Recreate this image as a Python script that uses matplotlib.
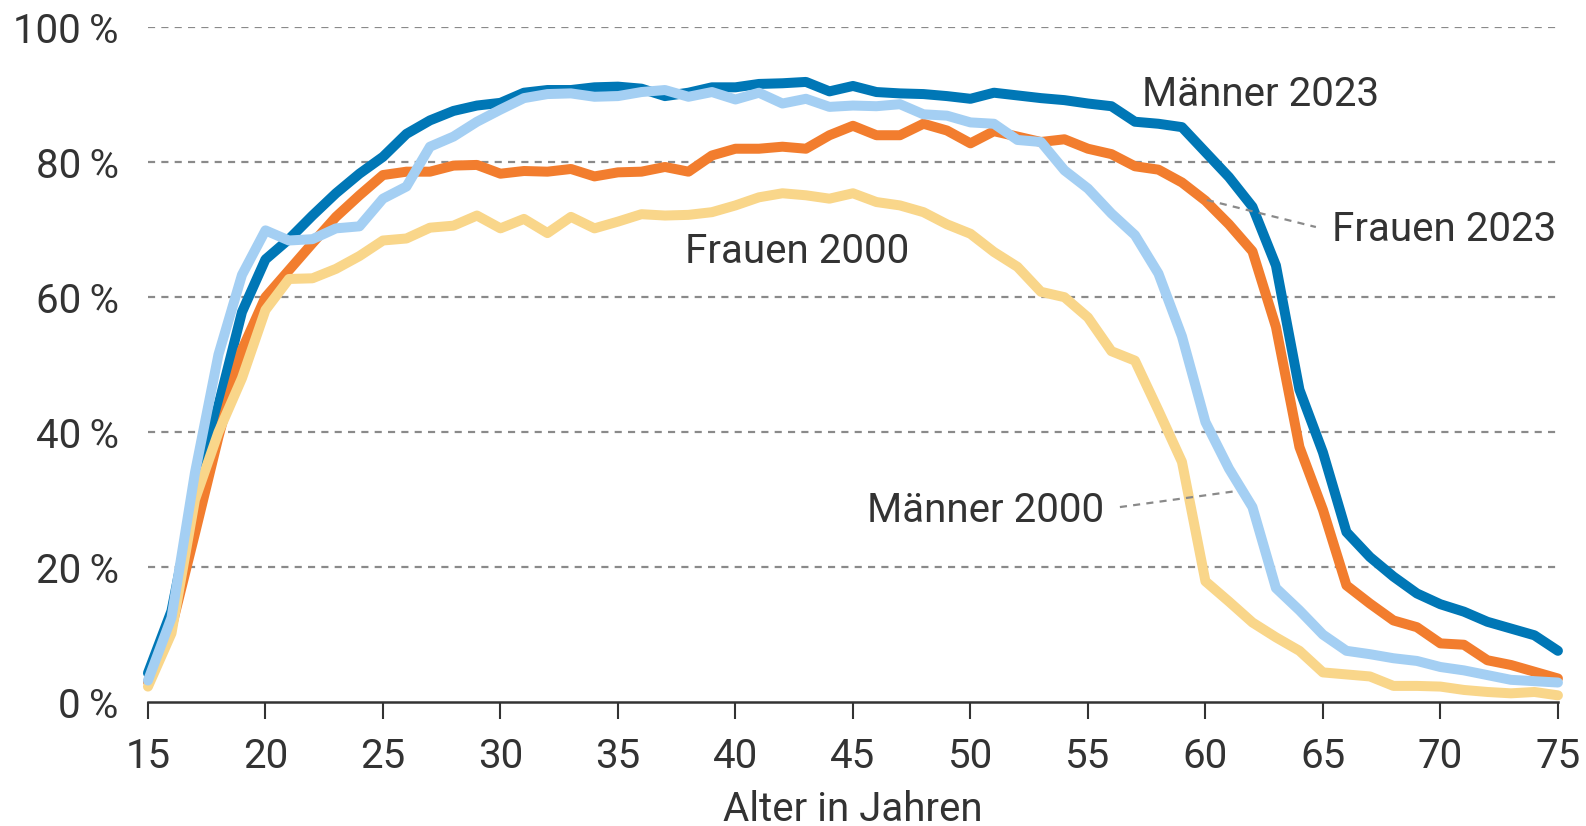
import matplotlib
matplotlib.use("Agg")
import matplotlib.pyplot as plt

# Erwerbsbeteiligung nach Alter, 15 bis 75 Jahre
alter = list(range(15, 76))

maenner_2023 = [4.3, 13.5, 31, 44, 57.8, 65.6, 68.6, 72.1, 75.4, 78.3,
                80.8, 84.2, 86.2, 87.6, 88.4, 88.8, 90.3, 90.7, 90.7, 91.1,
                91.2, 90.9, 89.8, 90.3, 91.1, 91.1, 91.6, 91.7, 91.9, 90.5,
                91.3, 90.4, 90.2, 90.1, 89.8, 89.4, 90.3, 89.9, 89.5, 89.2,
                88.7, 88.3, 86.0, 85.7, 85.2, 81.5, 77.8, 73.4, 64.7, 46.3,
                37.0, 25.2, 21.5, 18.6, 16.1, 14.5, 13.4, 11.9, 10.9, 9.9, 7.6]

frauen_2023 = [3.0, 11.0, 25, 39.3, 52.2, 60, 64, 68, 71.9, 75.1,
               78.1, 78.6, 78.6, 79.5, 79.6, 78.3, 78.7, 78.6, 79.0, 77.9,
               78.5, 78.6, 79.3, 78.6, 81.0, 82.0, 82.0, 82.3, 82.0, 84.0,
               85.4, 84.0, 84.0, 85.7, 84.7, 82.8, 84.6, 83.8, 83.0, 83.4,
               82.0, 81.2, 79.4, 78.9, 77.0, 74.3, 70.8, 66.8, 55.6, 37.8,
               28.5, 17.3, 14.6, 12.1, 11.1, 8.7, 8.5, 6.2, 5.5, 4.5, 3.5]

frauen_2000 = [2.3, 10.2, 30, 40, 48, 58.1, 62.7, 62.8, 64.2, 66.1,
               68.4, 68.7, 70.3, 70.6, 72.1, 70.2, 71.6, 69.5, 71.9, 70.2,
               71.2, 72.3, 72.1, 72.2, 72.6, 73.6, 74.8, 75.4, 75.1, 74.6,
               75.4, 74.1, 73.6, 72.6, 70.8, 69.4, 66.7, 64.5, 60.8, 60.0,
               57.0, 52.0, 50.6, 43.2, 35.6, 17.9, 14.9, 11.8, 9.6, 7.6,
               4.4, 4.1, 3.8, 2.4, 2.4, 2.3, 1.8, 1.5, 1.3, 1.5, 1.0]

maenner_2000 = [3.2, 12.5, 34, 51.5, 63.3, 69.9, 68.4, 68.6, 70.2, 70.5,
                74.6, 76.4, 82.3, 83.8, 86.0, 87.8, 89.5, 90.1, 90.2, 89.7,
                89.8, 90.4, 90.7, 89.7, 90.4, 89.3, 90.3, 88.7, 89.4, 88.2,
                88.4, 88.3, 88.6, 87.1, 86.9, 85.9, 85.7, 83.3, 83.0, 78.8,
                76.1, 72.4, 69.2, 63.5, 54.2, 41.5, 34.6, 28.9, 16.9, 13.6,
                10.0, 7.6, 7.1, 6.5, 6.1, 5.2, 4.7, 4.0, 3.3, 3.1, 2.9]

x_ticks = list(range(15, 80, 5))
y_ticks = [0, 20, 40, 60, 80, 100]

TEXT = "#333333"
FONT = ["Roboto", "DejaVu Sans"]
plt.rcParams["font.family"] = FONT

fig = plt.figure(figsize=(15.86, 8.26), dpi=100)
ax = fig.add_axes([0.0933, 0.150, 0.889, 0.817])

# Gitterlinien
for v in y_ticks[1:]:
    ax.axhline(v, color="#8a8a8a", lw=1.6, linestyle=(0, (3.2, 2.8)), zorder=1)

lw = 7.2
kw = dict(lw=lw, solid_capstyle="round", solid_joinstyle="round", clip_on=False)
ax.plot(alter, maenner_2023, color="#0077b6", zorder=3, **kw)
ax.plot(alter, frauen_2023, color="#f27d2e", zorder=4, **kw)
ax.plot(alter, frauen_2000, color="#f9d68a", zorder=5, **kw)
ax.plot(alter, maenner_2000, color="#a4cff3", zorder=6, **kw)

# Beschriftungen
fs = 29
ax.text(57.28, 88.4, "Männer 2023", fontsize=fs, color=TEXT, va="baseline", ha="left")
ax.text(65.37, 68.4, "Frauen 2023", fontsize=fs, color=TEXT, va="baseline", ha="left")
ax.text(37.85, 65.0, "Frauen 2000", fontsize=fs, color=TEXT, va="baseline", ha="left")
ax.text(45.6, 26.7, "Männer 2000", fontsize=fs, color=TEXT, va="baseline", ha="left")

# Hinweislinien
ax.plot([60.06, 64.7], [74.4, 70.4], color="#8a8a8a", lw=1.6,
        linestyle=(0, (3.2, 2.8)), zorder=8)
ax.plot([56.36, 61.17], [28.9, 31.2], color="#8a8a8a", lw=1.6,
        linestyle=(0, (3.2, 2.8)), zorder=8)

ax.set_xlim(15, 75)
ax.set_ylim(0, 100)
ax.set_xticks(x_ticks)
ax.set_xticklabels([str(t) for t in x_ticks], fontsize=fs, color=TEXT)
ax.set_yticks(y_ticks)
ax.set_yticklabels([f"{t}\u2009%" for t in y_ticks], fontsize=fs, color=TEXT)
ax.tick_params(axis="x", length=12, width=1.5, color=TEXT, pad=13)
ax.tick_params(axis="y", length=0, pad=21)

for s in ["top", "right", "left"]:
    ax.spines[s].set_visible(False)
ax.spines["bottom"].set_color(TEXT)
ax.spines["bottom"].set_linewidth(1.8)
ax.spines["bottom"].set_zorder(7)

ax.set_xlabel("Alter in Jahren", fontsize=fs, color=TEXT, labelpad=10)

fig.savefig("out.png", dpi=100)
